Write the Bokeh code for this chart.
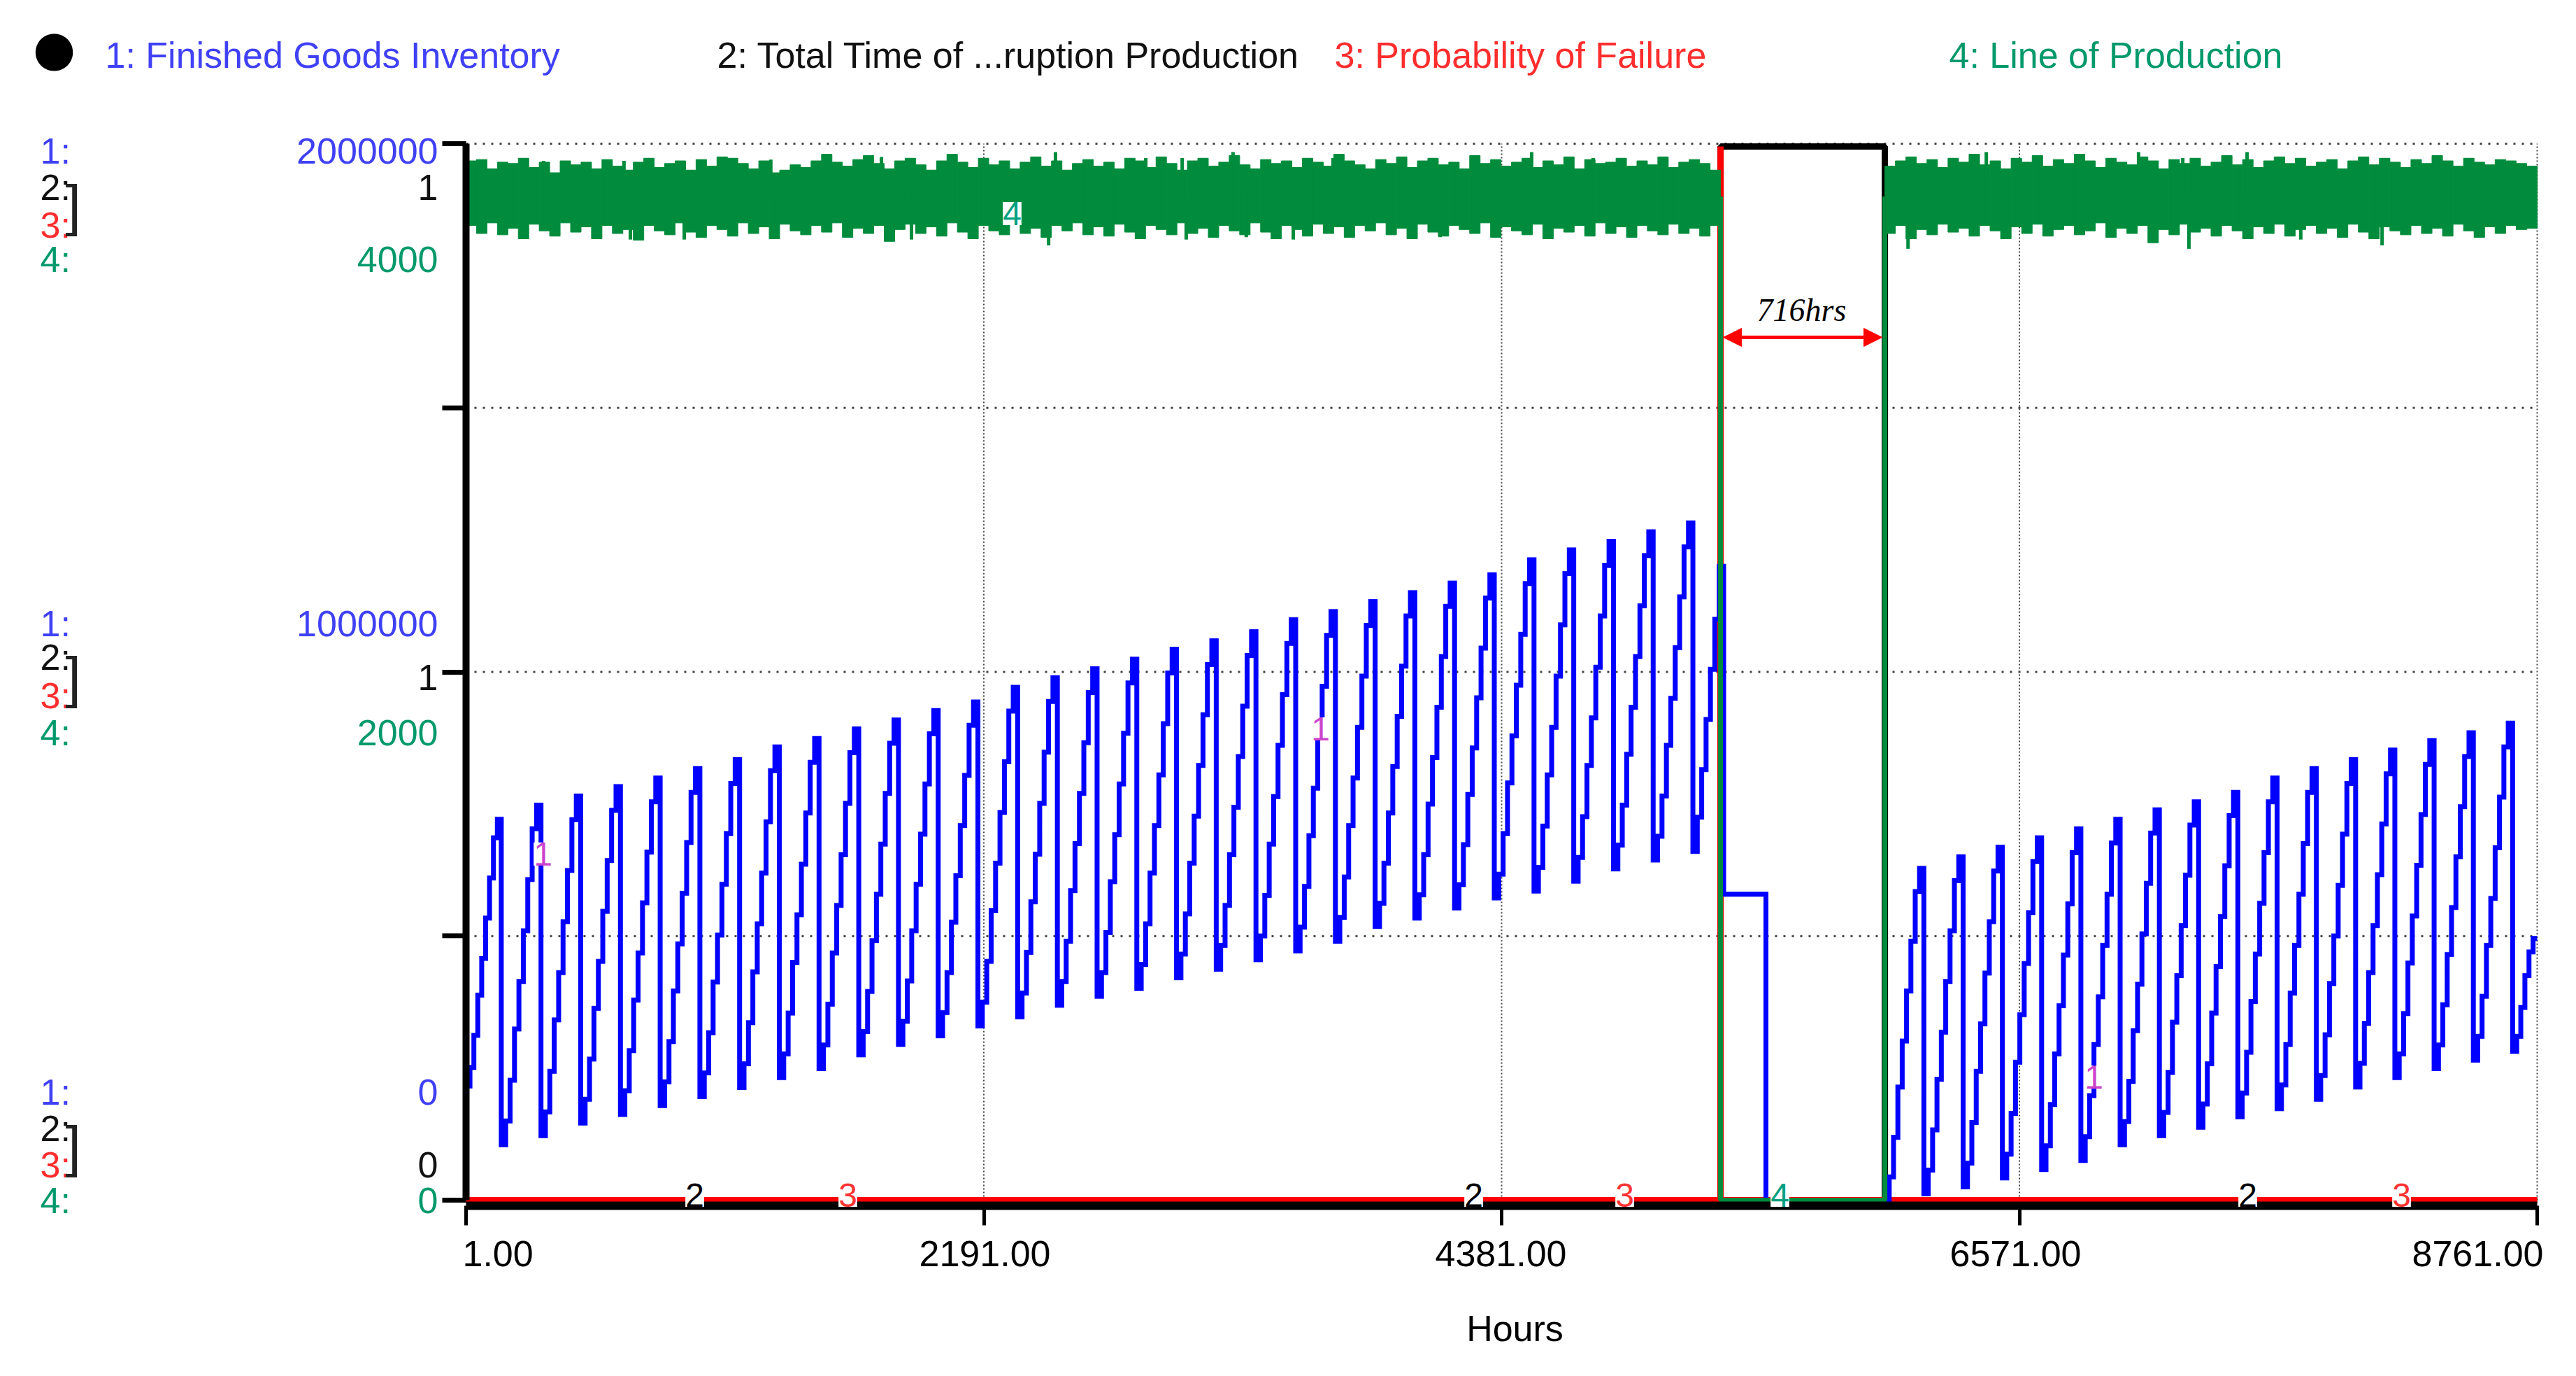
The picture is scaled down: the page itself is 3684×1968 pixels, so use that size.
import numpy as np
from bokeh.plotting import figure
from bokeh.models import Range1d, FixedTicker, Label, Arrow, NormalHead
from bokeh.embed import file_html
from bokeh.resources import INLINE

# ------------------------------------------------------------------ data
hour_ticks = [1, 2191, 4381, 6571, 8761]
hour_tick_labels = ["1.00", "2191.00", "4381.00", "6571.00", "8761.00"]
inv_ticks = [0, 500000, 1000000, 1500000, 2000000]

fail_start = 5307      # hour the failure hits (Probability of Failure = 1)
fail_end = 6002        # hour production restarts (716 hrs label)
blue_cut = 5320        # inventory drops when the line stops
hold_end = 5499        # remaining stock shipped out
hold_level = 579       # thousand units held during the first part of the stop

# weekly shipment (drop) hours
pre_drop_hours = list(range(150, 5191, 168))
post_drop_hours = list(range(6167, 8658, 166))

# Finished Goods Inventory, thousand units, stair levels of each weekly cycle
pre_cycles = [
    [216, 251, 312, 388, 458, 534, 610, 686, 721],
    [105, 150, 227, 324, 414, 510, 607, 703, 748],
    [122, 167, 244, 341, 431, 527, 624, 720, 765],
    [146, 191, 267, 363, 452, 547, 643, 738, 783],
    [162, 207, 283, 379, 468, 563, 659, 754, 799],
    [179, 224, 300, 396, 485, 581, 677, 772, 817],
    [196, 241, 317, 413, 502, 598, 694, 789, 834],
    [213, 258, 336, 432, 523, 619, 716, 813, 858],
    [232, 277, 354, 450, 540, 636, 733, 829, 874],
    [249, 294, 371, 468, 558, 654, 751, 847, 892],
    [275, 319, 395, 491, 579, 674, 770, 865, 909],
    [295, 339, 415, 510, 598, 693, 788, 883, 927],
    [311, 355, 431, 526, 614, 709, 804, 899, 943],
    [330, 375, 452, 548, 638, 734, 830, 926, 971],
    [347, 392, 469, 565, 655, 751, 848, 944, 989],
    [369, 414, 490, 586, 675, 770, 866, 961, 1006],
    [386, 431, 507, 603, 692, 788, 884, 979, 1024],
    [401, 446, 523, 619, 709, 805, 902, 998, 1043],
    [421, 466, 542, 638, 727, 823, 919, 1014, 1059],
    [437, 482, 558, 654, 744, 840, 935, 1031, 1076],
    [455, 500, 577, 674, 764, 861, 957, 1054, 1099],
    [472, 517, 594, 690, 780, 876, 973, 1069, 1114],
    [490, 535, 612, 709, 799, 895, 992, 1088, 1133],
    [518, 562, 638, 733, 821, 916, 1011, 1106, 1150],
    [534, 578, 654, 750, 838, 933, 1029, 1124, 1168],
    [553, 597, 673, 768, 856, 951, 1045, 1140, 1184],
    [572, 617, 694, 790, 879, 975, 1071, 1167, 1212],
    [585, 630, 708, 805, 895, 992, 1089, 1186, 1231],
    [604, 649, 726, 823, 913, 1009, 1106, 1202, 1247],
    [627, 672, 748, 844, 933, 1029, 1125, 1220, 1265],
    [644, 689, 765, 861, 950, 1046, 1142, 1237, 1282],
]
pre_tail = [660, 725, 815, 910, 1005, 1100, 1200]

post_cycles = [
    [0, 44, 119, 214, 301, 396, 490, 584, 628],
    [12, 57, 133, 229, 318, 414, 510, 605, 650],
    [25, 70, 147, 244, 334, 430, 527, 623, 668],
    [42, 87, 164, 261, 351, 448, 544, 641, 686],
    [58, 103, 181, 277, 368, 464, 561, 658, 703],
    [75, 120, 198, 295, 385, 482, 579, 676, 721],
    [105, 149, 225, 321, 409, 504, 600, 695, 739],
    [122, 166, 242, 337, 425, 520, 615, 710, 754],
    [138, 182, 258, 354, 442, 537, 633, 728, 772],
    [158, 203, 280, 376, 466, 562, 658, 754, 799],
    [173, 218, 295, 392, 482, 579, 675, 772, 817],
    [191, 236, 313, 410, 500, 596, 693, 789, 834],
    [214, 259, 335, 431, 520, 616, 712, 807, 852],
    [232, 277, 353, 449, 538, 634, 730, 825, 870],
    [249, 294, 370, 465, 554, 650, 745, 840, 885],
    [265, 310, 386, 482, 571, 667, 763, 858, 903],
]
post_tail = [282, 310, 365, 425, 470, 495]

# Line of Production (units/h): upper / lower edge of the noisy band per bin
prod_hi_pre = [
    3935, 3940, 3905, 3930, 3925, 3945, 3910, 3930, 3890, 3935, 3920, 3930, 3905, 3940, 3915, 3900, 3930, 3945, 3910, 3925,
    3935, 3900, 3940, 3915, 3950, 3945, 3925, 3905, 3935, 3890, 3900, 3920, 3910, 3935, 3960, 3930, 3915, 3940, 3955, 3925,
    3905, 3935, 3945, 3920, 3900, 3935, 3960, 3930, 3910, 3945, 3920, 3935, 3905, 3930, 3950, 3915, 3935, 3900, 3925, 3940,
    3915, 3930, 3905, 3945, 3935, 3910, 3950, 3925, 3900, 3935, 3945, 3915, 3930, 3955, 3920, 3905, 3940, 3925, 3935, 3910,
    3945, 3930, 3915, 3960, 3935, 3920, 3905, 3940, 3925, 3950, 3910, 3935, 3945, 3920, 3930, 3905, 3955, 3925, 3940, 3915,
    3930, 3945, 3910, 3935, 3920, 3950, 3905, 3940, 3925, 3930, 3945, 3915, 3935, 3920, 3950, 3910, 3930, 3940, 3925, 3900,
]
prod_lo_pre = [
    3690, 3660, 3700, 3655, 3680, 3640, 3695, 3670, 3650, 3700, 3665, 3685, 3640, 3690, 3660, 3675, 3635, 3690, 3670, 3655,
    3700, 3665, 3645, 3690, 3675, 3650, 3700, 3660, 3685, 3640, 3695, 3670, 3655, 3690, 3665, 3700, 3645, 3680, 3660, 3690,
    3630, 3675, 3695, 3660, 3685, 3650, 3700, 3665, 3640, 3690, 3670, 3655, 3695, 3660, 3680, 3645, 3690, 3670, 3700, 3655,
    3685, 3650, 3695, 3665, 3640, 3690, 3675, 3655, 3700, 3660, 3680, 3645, 3690, 3670, 3655, 3700, 3665, 3640, 3690, 3675,
    3650, 3695, 3660, 3685, 3645, 3690, 3670, 3700, 3655, 3680, 3640, 3695, 3665, 3650, 3690, 3675, 3660, 3700, 3645, 3685,
    3670, 3655, 3695, 3640, 3680, 3665, 3690, 3650, 3700, 3660, 3685, 3645, 3690, 3670, 3655, 3695, 3660, 3680, 3650, 3690,
]
prod_hi_post = [
    3915, 3935, 3950, 3925, 3940, 3910, 3945, 3930, 3960, 3920, 3935, 3905, 3945, 3930, 3955, 3915, 3940, 3925, 3960, 3935,
    3910, 3945, 3930, 3920, 3950, 3935, 3905, 3940, 3925, 3945, 3915, 3930, 3955, 3920, 3940, 3910, 3935, 3950, 3925, 3945,
    3915, 3930, 3940, 3905, 3935, 3950, 3920, 3945, 3930, 3910, 3940, 3925, 3955, 3935, 3915, 3945, 3930, 3920, 3940, 3935,
    3925, 3915,
]
prod_lo_post = [
    3660, 3690, 3640, 3675, 3655, 3695, 3665, 3680, 3650, 3690, 3670, 3640, 3685, 3660, 3695, 3650, 3675, 3690, 3655, 3670,
    3700, 3645, 3680, 3660, 3690, 3625, 3675, 3655, 3695, 3665, 3680, 3650, 3690, 3670, 3640, 3685, 3660, 3695, 3650, 3675,
    3690, 3660, 3680, 3645, 3695, 3665, 3640, 3685, 3670, 3655, 3690, 3660, 3680, 3650, 3695, 3670, 3645, 3685, 3660, 3690,
    3675, 3680,
]
# isolated spikes of the production noise
spike_up_hours = [329, 669, 1290, 1702, 1758, 2494, 2876, 3030, 3245, 3668, 4508, 4768, 6431, 7075, 7262, 7534]
spike_up_vals = [3935, 3935, 3940, 3950, 3950, 3968, 3946, 3946, 3968, 3946, 3968, 3946, 3968, 3968, 3946, 3968]
spike_dn_hours = [696, 924, 1885, 2465, 3047, 3301, 3500, 4121, 6100, 7288, 7761, 8105]
spike_dn_vals = [3637, 3637, 3637, 3615, 3637, 3646, 3637, 3646, 3602, 3602, 3637, 3615]
prod_mid = 3800   # level where the band meets the stop / restart

# ------------------------------------------------------------------ build series
bx, by = [], []

def add_steps(t0, t1, levels):
    dt = (t1 - t0) / len(levels)
    for i, v in enumerate(levels):
        bx.extend([t0 + i * dt, t0 + (i + 1) * dt])
        by.extend([v * 1000, v * 1000])

t = 1
for d, lv in zip(pre_drop_hours, pre_cycles):
    add_steps(t, d, lv)
    t = d
add_steps(t, blue_cut, pre_tail)
add_steps(blue_cut, hold_end, [hold_level])
add_steps(hold_end, fail_end, [0])
t = fail_end
for d, lv in zip(post_drop_hours, post_cycles):
    add_steps(t, d, lv)
    t = d
add_steps(t, 8761, post_tail)

edges_pre = np.linspace(1, fail_start, len(prod_hi_pre) + 1)
edges_post = np.linspace(fail_end, 8761, len(prod_hi_post) + 1)
q_left = list(edges_pre[:-1]) + list(edges_post[:-1])
q_right = list(edges_pre[1:]) + list(edges_post[1:])
q_top = prod_hi_pre + prod_hi_post
q_bot = prod_lo_pre + prod_lo_post

# ------------------------------------------------------------------ geometry
# reference-pixel placement of the plotting area (page has an 8px margin)
W, H = 3668, 1952
PL, PR, PT, PB = 674, 3636, 213, 1724      # value 0 / top of scale, page pixels
UNIT_TOP = 217                               # where value 1 of the 0..1 scale sits

def hx(rx):
    return 1 + (rx - PL) / (PR - PL) * 8760

def vy(ry):
    return (PB - ry) / (PB - PT) * 2_000_000

def vu(ry, top=1.0):
    return (PB - ry) / (PB - UNIT_TOP) * top

def vp(ry):
    return (PB - ry) / (PB - PT) * 4000

p = figure(width=W, height=H, output_backend="svg", toolbar_location=None,
           x_range=Range1d(hx(8), hx(8 + W)), y_range=Range1d(vy(8 + H), vy(8)),
           min_border=0)
p.extra_y_ranges = {"unit": Range1d(vu(8 + H), vu(8)), "prod": Range1d(vp(8 + H), vp(8))}
p.outline_line_color = None
p.background_fill_color = "white"
p.border_fill_color = "white"
p.xgrid.visible = False
p.ygrid.visible = False

# axes fixed onto the plotting area
p.xaxis.fixed_location = vy(1732)
p.yaxis.fixed_location = 1
p.xaxis.bounds = (1, 8761)
p.yaxis.bounds = (0, 2_000_000)
p.xaxis.ticker = FixedTicker(ticks=hour_ticks)
p.yaxis.ticker = FixedTicker(ticks=inv_ticks)
for ax in (p.xaxis, p.yaxis):
    ax.axis_line_color = "black"
    ax.major_tick_line_color = "black"
    ax.major_tick_in = 0
    ax.minor_tick_out = 0
    ax.minor_tick_in = 0
    try:
        ax.major_label_text_color = None
    except Exception:
        ax.major_label_text_font_size = "0px"
p.xaxis.axis_line_width = 12
p.xaxis.major_tick_out = 28
p.xaxis.major_tick_line_width = 5
p.yaxis.axis_line_width = 10
p.yaxis.major_tick_out = 34
p.yaxis.major_tick_line_width = 7

# dotted grid over the plotting area
hg = inv_ticks[1:]
p.segment(x0=[1] * len(hg), y0=hg, x1=[8761] * len(hg), y1=hg,
          line_color="#444444", line_width=3, line_dash="3 9")
vg = hour_ticks[1:]
p.segment(x0=vg, y0=[0] * len(vg), x1=vg, y1=[2_000_000] * len(vg),
          line_color="#444444", line_width=2, line_dash="2 3")

BLUE, GREEN, RED = "#0000ff", "#008c3c", "#ff0000"

# 2: Total Time of Interruption Production
p.line([1, fail_start, fail_start, fail_end, fail_end, 8761], [0, 0, 1, 1, 0, 0],
       y_range_name="unit", line_color="black", line_width=9)
# 3: Probability of Failure
p.line([1, fail_start, fail_start, fail_start, 8761], [0, 0, 1, 0, 0],
       y_range_name="unit", line_color=RED, line_width=9)
# 1: Finished Goods Inventory
p.line(bx, by, line_color=BLUE, line_width=7, line_join="miter")
# 4: Line of Production
p.quad(left=q_left, right=q_right, top=q_top, bottom=q_bot, y_range_name="prod",
       fill_color=GREEN, line_color=GREEN, line_width=1)
p.segment(x0=spike_up_hours, y0=[prod_mid] * len(spike_up_hours), x1=spike_up_hours, y1=spike_up_vals,
          y_range_name="prod", line_color=GREEN, line_width=5)
p.segment(x0=spike_dn_hours, y0=[prod_mid] * len(spike_dn_hours), x1=spike_dn_hours, y1=spike_dn_vals,
          y_range_name="prod", line_color=GREEN, line_width=5)
p.line([fail_start, fail_start, fail_end, fail_end], [prod_mid, 0, 0, prod_mid],
       y_range_name="prod", line_color=GREEN, line_width=7)

# ------------------------------------------------------------------ texts
def lab(text, rx, ry, color, size=52, align="left", font="Liberation Sans", style="normal", bg=None):
    p.add_layout(Label(x=hx(rx), y=vy(ry), text=text, text_color=color,
                       text_font_size=f"{size}px", text_align=align, text_baseline="middle",
                       text_font=font, text_font_style=style,
                       background_fill_color=bg))

C1, C2, C3, C4 = "#4040f5", "#111111", "#ff2d2d", "#00996b"

# legend row
lab("\u25CF", 85, 76, "black", size=70, align="center", font="DejaVu Sans")
lab("1: Finished Goods Inventory", 158, 86, C1)
lab("2: Total Time of ...ruption Production", 1033, 86, C2)
lab("3: Probability of Failure", 1916, 86, C3)
lab("4: Line of Production", 2795, 86, C4)

# scale labels (stacked per series)
groups = [
    (223, 275, 329, 378, "2000000", "1", 275, "4000", 301),
    (899, 947, 1002, 1055, "1000000", "1", 976, "2000", 976),
    (1569, 1621, 1673, 1724, "0", "0", 1673, "0", 1647),
]
for y1, y2, y3, y4, v1, v2, v2y, v4, by_ in groups:
    lab("1:", 65, y1, C1)
    lab("2:", 65, y2, C2)
    lab("3:", 65, y3, C3)
    lab("4:", 65, y4, C4)
    lab("]", 112, by_, "#222222", size=80, align="center")
    lab(v1, 634, y1, C1, align="right")
    lab(v2, 634, v2y, C2, align="right")
    lab(v4, 634, y4, C4, align="right")

# x tick labels and axis title
lab(hour_tick_labels[0], 669, 1800, "black")
for tl, rx in zip(hour_tick_labels[1:4], [1416, 2154, 2890]):
    lab(tl, rx, 1800, "black", align="center")
lab(hour_tick_labels[4], 3645, 1800, "black", align="right")
lab("Hours", 2174, 1907, "black", align="center")

# series tags on the curves
for rx, ry in [(784, 1229), (1896, 1050), (3002, 1548)]:
    lab("1", rx, ry, "#cc44cc", size=48, align="center", bg="white")
for rx in [1001, 2115, 3222]:
    lab("2", rx, 1717, "black", size=48, align="center", bg="white")
for rx in [1220, 2331, 3442]:
    lab("3", rx, 1717, "#ff3333", size=48, align="center", bg="white")
lab("4", 1455, 313, "#00a080", size=48, align="center", bg="white")
lab("4", 2553, 1717, "#00a080", size=48, align="center", bg="white")

# disruption annotation
arrow_y = vy(490)
p.add_layout(Arrow(start=NormalHead(size=26, fill_color=RED, line_color=RED),
                   end=NormalHead(size=26, fill_color=RED, line_color=RED),
                   x_start=fail_start + 12, y_start=arrow_y, x_end=fail_end - 12, y_end=arrow_y,
                   line_color=RED, line_width=5))
lab("716hrs", 2584, 451, "black", size=46, align="center", font="Liberation Serif", style="italic")

open("out.html", "w").write(file_html(p, INLINE))
